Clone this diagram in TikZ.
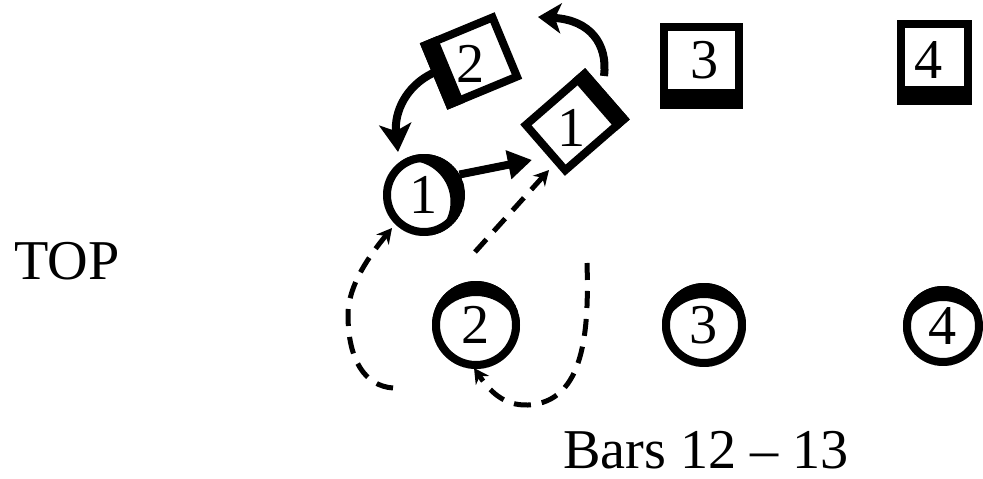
\documentclass[tikz,border=0pt]{standalone}
\usepackage{fontspec}
\setmainfont{Liberation Serif}
\usetikzlibrary{arrows.meta,calc}
\begin{document}
\begin{tikzpicture}[x=0.02cm,y=-0.02cm,
  lbl/.style={font=\fontsize{32pt}{38pt}\selectfont, inner sep=0pt},
  ring/.style={circle, draw, line width=0.16cm, inner sep=0pt, font=\fontsize{32pt}{38pt}\selectfont},
  box/.style={line width=0.16cm},
  solidarrow/.style={line width=0.16cm},
  dasharrow/.style={line width=0.1cm, dash pattern=on 0.34cm off 0.22cm,
    -{Stealth[length=0.3cm,width=0.32cm]}}]
\fill[white] (0,0) rectangle (983,479);
\useasboundingbox (0,0) rectangle (983,479);

% texts
\node[lbl, anchor=base] (top) at (67,280) {TOP};
\node[lbl, anchor=base] (bars) at (706,468) {Bars 12 -- 13};

% circles (bottom row and circle 1)
\node[ring, minimum size=1.48cm] (c1) at (424,195) {1};
\node[ring, minimum size=1.6cm] (c2) at (476,325) {2};
\node[ring, minimum size=1.52cm] (c3) at (704,325) {3};
\node[ring, minimum size=1.44cm] (c4) at (943,326) {4};

% thick facing sides of circles
\begin{scope}
  \clip (c1.center) circle[radius=0.82cm];
  \fill[even odd rule] (c1.center) circle[radius=0.82cm] ($(c1.center)+(-14.5,6.8)$) circle[radius=0.82cm];
\end{scope}
\begin{scope}
  \clip (c2.center) circle[radius=0.88cm];
  \fill[even odd rule] (c2.center) circle[radius=0.88cm] ($(c2.center)+(0,15)$) circle[radius=0.88cm];
\end{scope}
\begin{scope}
  \clip (c3.center) circle[radius=0.84cm];
  \fill[even odd rule] (c3.center) circle[radius=0.84cm] ($(c3.center)+(0,15)$) circle[radius=0.84cm];
\end{scope}
\begin{scope}
  \clip (c4.center) circle[radius=0.8cm];
  \fill[even odd rule] (c4.center) circle[radius=0.8cm] ($(c4.center)+(0,15)$) circle[radius=0.8cm];
\end{scope}

% squares 3 and 4
\draw[box] (664,27) rectangle (739,105);
\fill (660,89) rectangle (743,109);
\draw[box] (901,24) rectangle (968,101);
\fill (897,86) rectangle (972,105);
\node[lbl] (s3) at (705,60) {3};
\node[lbl] (s4) at (929,60) {4};

% square 2 (rotated, thick left side)
\begin{scope}[shift={(471,61)}, rotate=22.5]
  \draw[box] (-36.5,-32) rectangle (36.5,32);
  \fill (-40.5,-36) rectangle (-22,36);
\end{scope}
\node[lbl] (s2) at (471,64) {2};

% square 1 (rotated, thick upper-right side)
\begin{scope}[shift={(575,122)}, rotate=41]
  \draw[box] (-39,-30) rectangle (39,30);
  \fill (26,-34) rectangle (43,34);
\end{scope}
\node[lbl] (s1) at (572,128) {1};

% solid arrows
\draw[solidarrow, -{Triangle[length=0.48cm,width=0.56cm]}]
  (c1.30) -- ($(s1)+(-40,32)$);
\draw[solidarrow, -{Stealth[length=0.56cm,width=0.64cm,inset=0.14cm]}]
  ($(s2)+(-38,9)$) .. controls (406,86) and (394,112) .. ($(c1)+(-26,-43)$);
\draw[solidarrow, -{Stealth[length=0.46cm,width=0.6cm,inset=0.12cm]}]
  ($(s1)+(32,-52)$) .. controls (608,44) and (590,20) .. ($(s1)+(-34,-111)$);

% dashed arrows
\draw[dasharrow] ($(c2)+(-1,-73)$) -- ($(s1)+(-23,42)$);
\draw[dasharrow] ($(c2)+(-83,63)$) .. controls (365,386) and (348,360) .. (348,315)
  .. controls (348,285) and (370,255) .. ($(c1)+(-32,33)$);
\draw[dasharrow] ($(c2)+(111,-62)$) .. controls (589,330) and (585,402) .. (528,405)
  .. controls (503,406) and (489,390) .. ($(c2)+(-2,43)$);
\end{tikzpicture}
\end{document}
